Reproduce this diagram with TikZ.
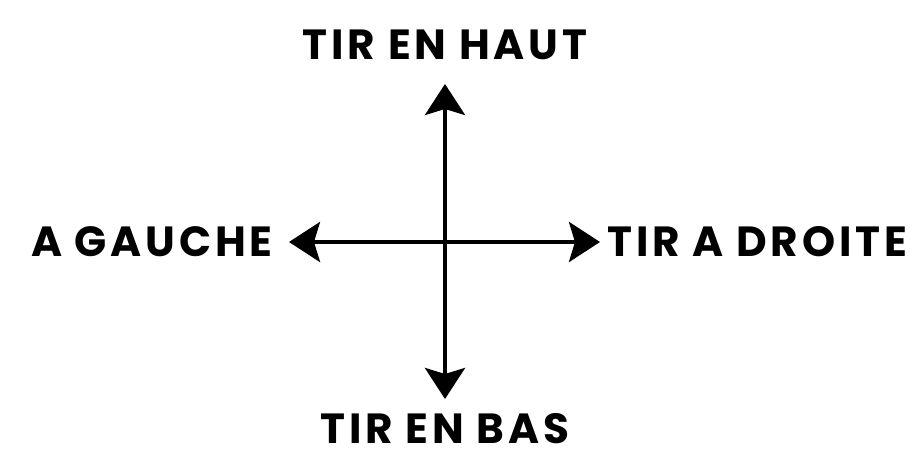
\documentclass[tikz,border=0pt]{standalone}
\usepackage{fontspec}
\setmainfont{Poppins}[LetterSpace=9]
\usetikzlibrary{arrows.meta}

\begin{document}
\begin{tikzpicture}[
  font=\bfseries\fontsize{24}{28}\selectfont,
  dirlabel/.style={inner sep=0pt},
  twoway/.style={line width=2.3pt, {Stealth[length=0.62cm, width=0.8cm, inset=0.12cm]}-{Stealth[length=0.62cm, width=0.8cm, inset=0.12cm]}},
]
\useasboundingbox (0,0) rectangle (18.32,9.18);

% centre of the cross and arrow tips
\coordinate (c) at (8.9,4.34);
\coordinate (tipup) at (8.9,7.50);
\coordinate (tipdown) at (8.9,1.20);
\coordinate (tipleft) at (5.78,4.34);
\coordinate (tipright) at (12.0,4.34);

% labels
\node[dirlabel] (haut) at (8.9,8.28) {TIR EN HAUT};
\node[dirlabel] (bas) at (8.9,0.6) {TIR EN BAS};
\node[dirlabel, anchor=east] (gauche) at (5.46,4.34) {A GAUCHE};
\node[dirlabel, anchor=west] (droite) at (12.14,4.34) {TIR A DROITE};

% arrows
\draw[twoway] (tipdown) -- (tipup);
\draw[twoway] (tipleft) -- (tipright);
\end{tikzpicture}
\end{document}
